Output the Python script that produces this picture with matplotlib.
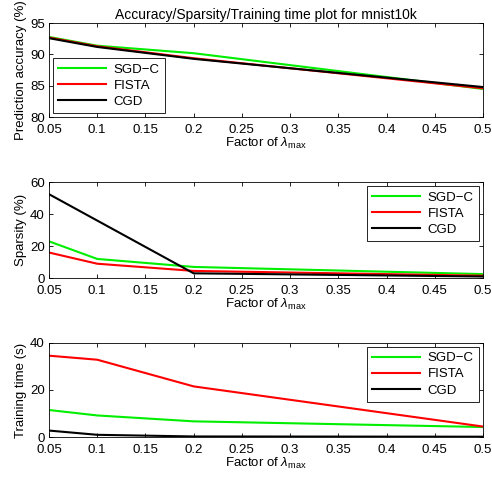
import matplotlib
matplotlib.use("Agg")
import matplotlib.pyplot as plt

plt.rcParams["font.family"] = ["Liberation Sans", "DejaVu Sans"]
plt.rcParams["font.size"] = 9.5
plt.rcParams["mathtext.fontset"] = "custom"
plt.rcParams["mathtext.rm"] = "Liberation Sans"
plt.rcParams["mathtext.it"] = "Liberation Sans:italic"

# factor of lambda_max
factors = [0.05, 0.1, 0.2, 0.5]
methods = ["SGD\u2212C", "FISTA", "CGD"]
colors = ["#00ee00", "red", "black"]

# prediction accuracy (%)
acc_sgdc = [92.8, 91.4, 90.2, 84.5]
acc_fista = [92.7, 91.3, 89.4, 84.6]
acc_cgd = [92.6, 91.2, 89.3, 84.8]

# sparsity (%)
sp_sgdc = [23.0, 12.0, 7.0, 2.5]
sp_fista = [16.0, 9.0, 4.5, 1.5]
sp_cgd = [52.5, 36.0, 3.0, 1.0]

# training time (s)
tt_sgdc = [11.5, 9.2, 6.7, 4.3]
tt_fista = [34.5, 32.8, 21.5, 4.5]
tt_cgd = [2.8, 1.0, 0.3, 0.2]

panels = [
    ([acc_sgdc, acc_fista, acc_cgd], "Prediction accuracy (%)", (80, 95), [80, 85, 90, 95], "lower left"),
    ([sp_sgdc, sp_fista, sp_cgd], "Sparsity (%)", (0, 60), [0, 20, 40, 60], "upper right"),
    ([tt_sgdc, tt_fista, tt_cgd], "Training time (s)", (0, 40), [0, 20, 40], "upper right"),
]
positions = [
    [0.0996, 0.757, 0.882, 0.195],
    [0.0996, 0.423, 0.882, 0.199],
    [0.0996, 0.093, 0.882, 0.196],
]

fig = plt.figure(figsize=(4.92, 4.82), dpi=100)

for (series, ylabel, ylim, yticks, loc), pos in zip(panels, positions):
    ax = fig.add_axes(pos)
    for vals, name, c in zip(series, methods, colors):
        ax.plot(factors, vals, color=c, linewidth=1.5, label=name)
    ax.set_xlim(0.05, 0.5)
    ax.set_ylim(*ylim)
    ax.set_yticks(yticks)
    ax.set_xticks([0.05, 0.1, 0.15, 0.2, 0.25, 0.3, 0.35, 0.4, 0.45, 0.5])
    ax.set_xticklabels(["0.05", "0.1", "0.15", "0.2", "0.25", "0.3", "0.35", "0.4", "0.45", "0.5"])
    ax.tick_params(direction="in", top=True, right=True, length=3, width=0.6, labelsize=9.5)
    ax.tick_params(axis="x", pad=5)
    ax.tick_params(axis="y", pad=3)
    for s in ax.spines.values():
        s.set_linewidth(0.6)
    ax.set_ylabel(ylabel, fontsize=9.5, labelpad=2)
    ax.set_xlabel(r"Factor of $\lambda_{\mathrm{max}}$", fontsize=9.5, labelpad=0)
    leg = ax.legend(loc=loc, fontsize=9.5, fancybox=False, framealpha=1,
                    handlelength=3.6, borderpad=0.4, labelspacing=0.3, borderaxespad=0.3,
                    handletextpad=0.6)
    leg.get_frame().set_edgecolor("black")
    leg.get_frame().set_linewidth(0.6)
    if ylabel.startswith("Prediction"):
        ax.set_title("Accuracy/Sparsity/Training time plot for mnist10k", fontsize=10, pad=3)

fig.savefig("out.png", dpi=100)
